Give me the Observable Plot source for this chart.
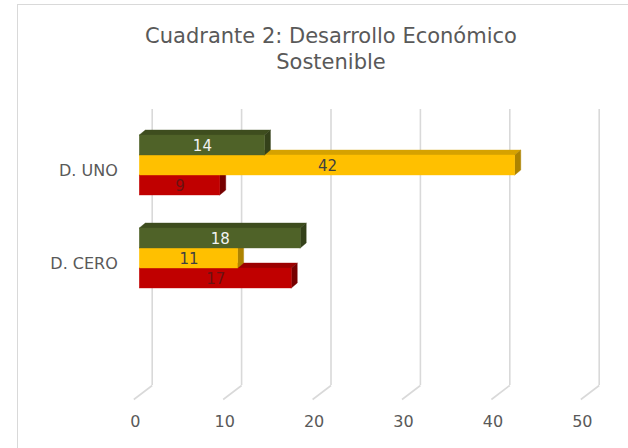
<!DOCTYPE html>
<html>
<head>
<meta charset="utf-8">
<script src="https://cdn.jsdelivr.net/npm/d3@7"></script>
<script src="https://cdn.jsdelivr.net/npm/@observablehq/plot@0.6"></script>
<style>
  html, body { margin: 0; padding: 0; background: #fff; overflow: hidden; width: 628px; height: 448px; }
  #wrap { position: relative; width: 628px; height: 448px; overflow: hidden; }
  #border { position: absolute; left: 17px; top: 4px; width: 700px; height: 600px; border: 1.5px solid #d9d9d9; box-sizing: border-box; }
  #title { position: absolute; left: 0; top: 23px; width: 662px; text-align: center; font-family: "DejaVu Sans", sans-serif; font-size: 21px; line-height: 26px; color: #595959; }
  #chart { position: absolute; left: 0; top: 0; }
</style>
</head>
<body>
<div id="wrap">
  <div id="border"></div>
  <div id="chart"></div>
  <div id="title"></div>
</div>
<script>
// ---- Data ----
const titleLines = ["Cuadrante 2: Desarrollo Económico", "Sostenible"];
const categories = ["D. UNO", "D. CERO"];
const seriesNames = ["Serie 1", "Serie 2", "Serie 3"];
const serie1 = [14, 18];   // green
const serie2 = [42, 11];   // yellow
const serie3 = [9, 17];    // red
const xTicks = [0, 10, 20, 30, 40, 50];

// ---- Styles ----
const frontColors = ["#4f6228", "#ffc000", "#c00000"];
const topColors   = ["#3e4d1e", "#d6a200", "#9c0000"];
const sideColors  = ["#34411a", "#ad8300", "#760000"];
const labelColors = ["#f2f2f2", "#404040", "#6b1212"];

const seriesValues = [serie1, serie2, serie3];

// geometry (pixels -> data units)
const x0px = 139.3, x50px = 586.3;
const pxPerX = (x50px - x0px) / 50;
const pxPerY = 20;
const yTop = -2.8, yFloor = 11;
const barDepthX = 6 / pxPerX, barDepthY = 5 / pxPerY;
const wallShiftX = 12.4 / pxPerX, frontShiftX = 6 / pxPerX, floorDepthY = 14 / pxPerY;
const groupStep = 4.65;

const rows = [];
categories.forEach((c, i) => {
  seriesValues.forEach((vals, s) => {
    const top = i * groupStep - 1.5 + s;
    rows.push({cat: c, series: seriesNames[s], s, value: vals[i], top, bottom: top + 1, id: c + "|" + s});
  });
});

const barMarks = [];
for (const s of [2, 1, 0]) {
  const rs = rows.filter(r => r.s === s);
  const topData = rs.flatMap(r => [
    {id: r.id, y: r.top, x1: 0, x2: r.value},
    {id: r.id, y: r.top - barDepthY, x1: barDepthX, x2: r.value + barDepthX}
  ]);
  const sideData = rs.flatMap(r => [
    {id: r.id, x: r.value, y1: r.bottom, y2: r.top},
    {id: r.id, x: r.value + barDepthX, y1: r.bottom - barDepthY, y2: r.top - barDepthY}
  ]);
  barMarks.push(
    Plot.areaX(topData, {y: "y", x1: "x1", x2: "x2", z: "id", fill: topColors[s], stroke: topColors[s], strokeWidth: 0.4}),
    Plot.areaY(sideData, {x: "x", y1: "y1", y2: "y2", z: "id", fill: sideColors[s], stroke: sideColors[s], strokeWidth: 0.4}),
    Plot.rect(rs, {x1: 0, x2: "value", y1: "top", y2: "bottom", fill: frontColors[s], stroke: frontColors[s], strokeWidth: 0.4})
  );
}

const chart = Plot.plot({
  width: 628,
  height: 448,
  marginLeft: x0px,
  marginRight: 628 - x50px,
  marginTop: 109,
  marginBottom: 63,
  x: {domain: [0, 50], range: [x0px, x50px], axis: null},
  y: {domain: [yTop, yFloor], range: [109, 385], axis: null},
  style: {background: "transparent", fontFamily: "DejaVu Sans, sans-serif"},
  marks: [
    Plot.ruleX(xTicks, {x: d => d + wallShiftX, y1: yTop, y2: yFloor, stroke: "#d9d9d9", strokeWidth: 1.6}),
    Plot.link(xTicks, {x1: d => d + wallShiftX, y1: yFloor, x2: d => d - frontShiftX, y2: yFloor + floorDepthY, stroke: "#d9d9d9", strokeWidth: 1.6}),
    Plot.text(xTicks, {x: d => d - frontShiftX, y: yFloor + floorDepthY, text: d => String(d), dy: 22, dx: 1.5, fontSize: 16, fill: "#595959"}),
    Plot.text(categories, {x: 0, y: (d, i) => i * groupStep, text: d => d, textAnchor: "end", dx: -22, dy: 5, fontSize: 16, fill: "#595959"}),
    ...barMarks,
    Plot.text(rows, {x: r => r.value / 2, y: r => (r.top + r.bottom) / 2, text: r => String(r.value), dy: 1, fontSize: 15, fill: r => labelColors[r.s]})
  ]
});
document.getElementById("chart").appendChild(chart);
document.getElementById("title").innerHTML = titleLines.join("<br>");
</script>
</body>
</html>
